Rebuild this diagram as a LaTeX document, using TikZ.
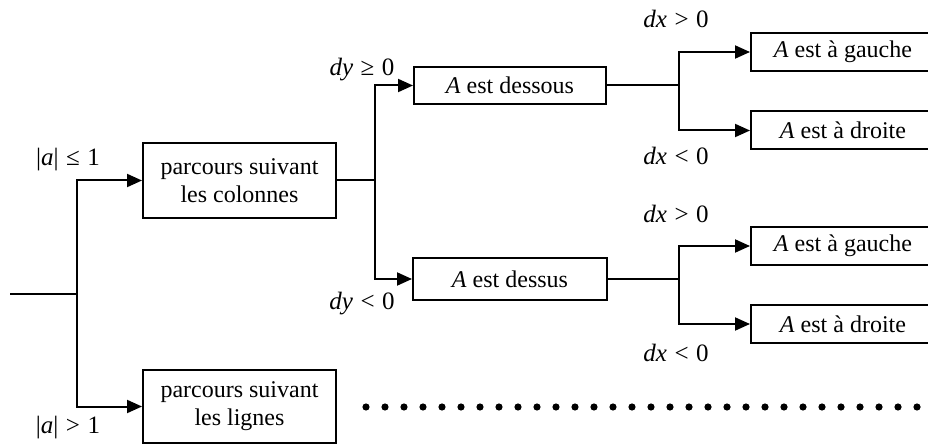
\documentclass[tikz,border=0pt]{standalone}
\usepackage{fontspec}
\setmainfont{Liberation Serif}
\usetikzlibrary{arrows.meta}
\newcommand{\rsp}{\hspace{0.3em}}
\begin{document}
\begin{tikzpicture}[x=0.5pt,y=-0.5pt,
  font=\fontsize{12pt}{14pt}\selectfont,
  line width=1pt,
  box/.style={draw,rectangle,inner sep=0pt,align=center},
  arr/.style={-{Triangle[length=7.5pt,width=6.5pt]}},
  lab/.style={inner sep=0pt,anchor=center,font=\fontsize{12.5pt}{14pt}\selectfont},
  dotmark/.style={fill,circle,inner sep=0pt,minimum size=3.6pt}]
\clip (0,0) rectangle (928,444);
\fill[white] (0,0) rectangle (928,444);
% boxes
\node[box,minimum width=96.5pt,minimum height=37.5pt] (b1) at (239.5,180.5) {parcours suivant\\les colonnes};
\node[box,minimum width=96.5pt,minimum height=36.5pt] (b2) at (239.5,406.5) {parcours suivant\\les lignes};
\node[box,minimum width=96pt,minimum height=18.5pt] (d1) at (510,85.5) {\textit{A} est dessous};
\node[box,minimum width=97pt,minimum height=21pt] (d2) at (510,279) {\textit{A} est dessus};
\node[box,minimum width=92pt,minimum height=19pt] (g1) at (843,52) {\textit{A} est à gauche};
\node[box,minimum width=92pt,minimum height=19pt] (r1) at (843,130.5) {\textit{A} est à droite};
\node[box,minimum width=92pt,minimum height=19pt] (g2) at (843,246) {\textit{A} est à gauche};
\node[box,minimum width=92pt,minimum height=19pt] (r2) at (843,324) {\textit{A} est à droite};
% junctions
\coordinate (s) at (10,294);
\coordinate (j0) at (77,294);
\coordinate (j1) at (375,180.5);
\coordinate (j2) at (679,85.5);
\coordinate (j3) at (679,279);
% connectors
\draw (s) -- (j0);
\draw[arr] (j0) |- (b1.west);
\draw[arr] (j0) |- (b2.west);
\draw (b1.east) -- (j1);
\draw[arr] (j1) |- (d1.west);
\draw[arr] (j1) |- (d2.west);
\draw (d1.east) -- (j2);
\draw[arr] (j2) |- (g1.west);
\draw[arr] (j2) |- (r1.west);
\draw (d2.east) -- (j3);
\draw[arr] (j3) |- (g2.west);
\draw[arr] (j3) |- (r2.west);
% labels
\node[lab] (l1) at (68,160) {|\textit{a}|\rsp≤\rsp1};
\node[lab] (l2) at (68,428) {|\textit{a}|\rsp>\rsp1};
\node[lab] (l3) at (362,70) {\textit{dy}\rsp≥\rsp0};
\node[lab] (l4) at (362,304) {\textit{dy}\rsp<\rsp0};
\node[lab] (l5) at (676,19) {\textit{dx}\rsp>\rsp0};
\node[lab] (l6) at (676,156) {\textit{dx}\rsp<\rsp0};
\node[lab] (l7) at (676,214) {\textit{dx}\rsp>\rsp0};
\node[lab] (l8) at (676,353) {\textit{dx}\rsp<\rsp0};
% dots
\foreach \i in {0,...,29} {
  \node[dotmark] (dot\i) at (366+19*\i,407) {};
}
\end{tikzpicture}
\end{document}
